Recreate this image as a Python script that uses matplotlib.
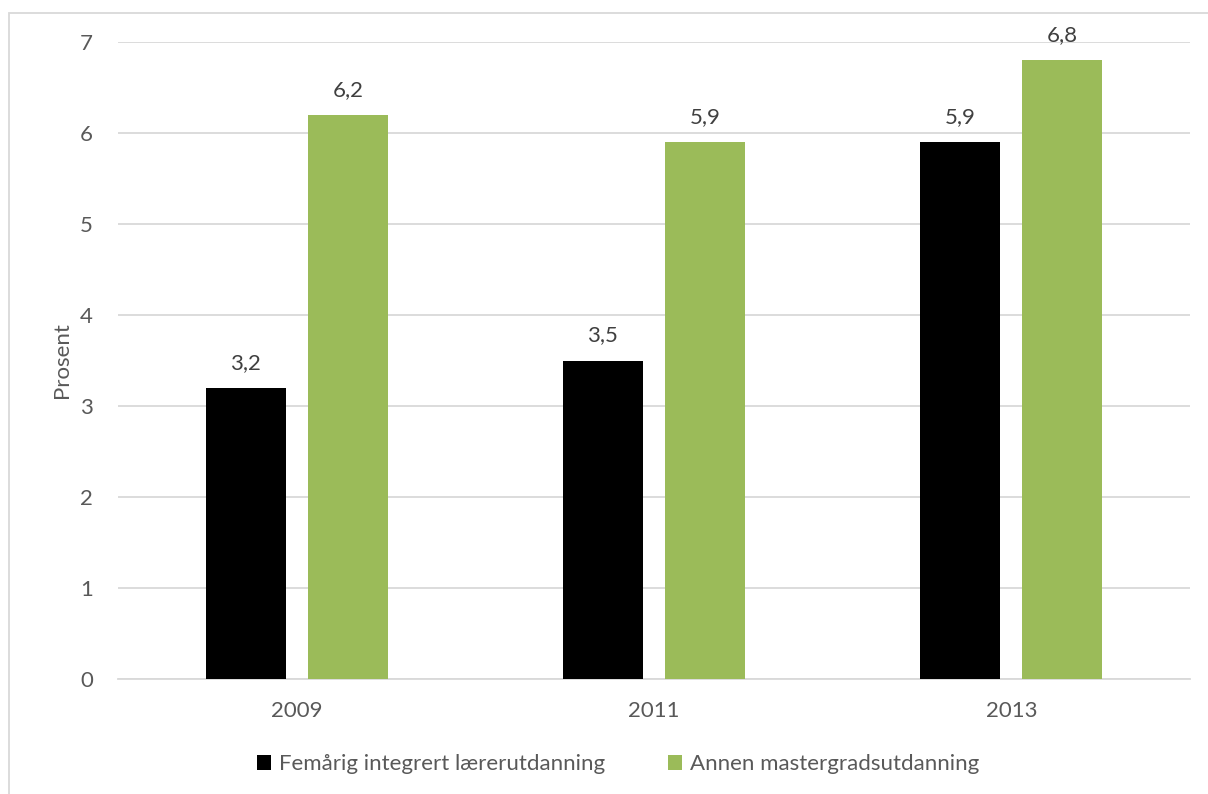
import numpy as np
import matplotlib.pyplot as plt
from matplotlib.patches import Rectangle

years = ['2009', '2011', '2013']
femaarig = [3.2, 3.5, 5.9]
annen = [6.2, 5.9, 6.8]
series_names = ['Femårig integrert lærerutdanning', 'Annen mastergradsutdanning']

plt.rcParams['font.family'] = ['Lato', 'DejaVu Sans']
fs = 16

fig = plt.figure(figsize=(12.08, 7.94), dpi=100)
ax = fig.add_axes([118 / 1208, 1 - 679 / 794, 1072 / 1208, 637 / 794])

x = np.arange(len(years))
width = 0.224
offset = 0.143
b1 = ax.bar(x - offset, femaarig, width, color='black', label=series_names[0], zorder=3)
b2 = ax.bar(x + offset, annen, width, color='#9bbb59', label=series_names[1], zorder=3)

for bars, vals in ((b1, femaarig), (b2, annen)):
    for bar, v in zip(bars, vals):
        ax.annotate(f'{v:.1f}'.replace('.', ','),
                    (bar.get_x() + bar.get_width() / 2, v),
                    xytext=(0, 18), textcoords='offset points',
                    ha='center', va='center', fontsize=fs, color='#404040')

ax.set_xlim(-0.5, 2.5)
ax.set_ylim(0, 7)
ax.set_yticks(range(8))
ax.set_xticks(x)
ax.set_xticklabels(years)
ax.tick_params(axis='both', length=0, labelsize=fs, labelcolor='#595959')
ax.tick_params(axis='y', pad=18)
ax.tick_params(axis='x', pad=16)
ax.grid(axis='y', color='#d9d9d9', linewidth=1.3, zorder=0)
for side in ['top', 'right', 'left']:
    ax.spines[side].set_visible(False)
ax.spines['bottom'].set_color('#d9d9d9')
ax.spines['bottom'].set_linewidth(1.3)

ax.set_ylabel('Prosent', fontsize=fs, color='#595959', labelpad=6)

fig.legend(loc='center', bbox_to_anchor=(618 / 1208, 1 - 764 / 794), ncol=2,
           frameon=False, fontsize=fs, labelcolor='#595959',
           handlelength=0.65, handleheight=0.65, handletextpad=0.35, columnspacing=2.8)

# thin grey frame around the chart area
fig.patches.append(Rectangle((8.5 / 1208, -0.05), 1.1, 1 - 12.5 / 794 + 0.05,
                             transform=fig.transFigure, fill=False,
                             edgecolor='#d9d9d9', linewidth=1.3))

fig.savefig('out.png', dpi=100)
